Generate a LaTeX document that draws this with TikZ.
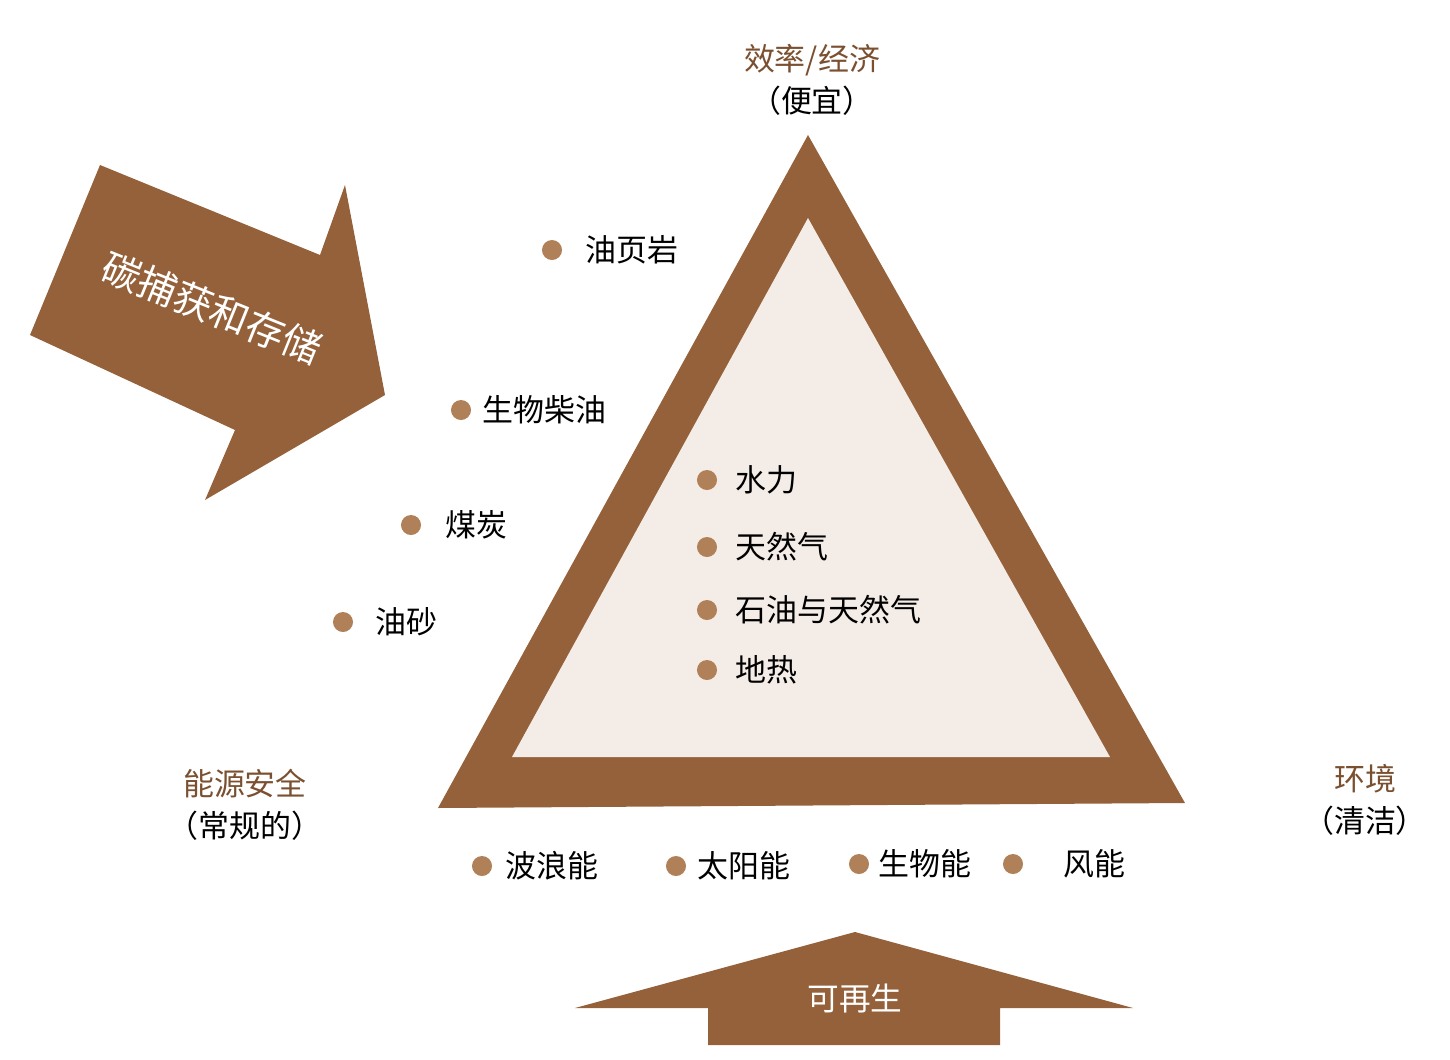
\documentclass[tikz,border=0pt]{standalone}
\usepackage{fontspec}
\setmainfont{Noto Sans CJK SC}
\definecolor{brn}{HTML}{94613A}
\definecolor{inner}{HTML}{F4ECE6}
\definecolor{dotc}{HTML}{B08058}
\definecolor{head}{HTML}{7A5030}
\tikzset{dot/.style={circle,fill=dotc,inner sep=0pt,minimum size=0.2cm},
 lab/.style={anchor=west,inner sep=0pt,font=\fontsize{8.8}{10}\selectfont},
 hd/.style={align=center,font=\fontsize{8.8}{12}\selectfont}}
\begin{document}
\begin{tikzpicture}[x=0.01cm,y=-0.01cm]
\useasboundingbox (0,0) rectangle (1450,1060);
\fill[brn] (808,135) -- (1185,803) -- (438,808) -- cycle;
\fill[inner] (808,218) -- (1110,757) -- (512,757) -- cycle;
\fill[brn] (100,165) -- (320,255) -- (345,185) -- (385,395) -- (205,500) -- (235,430) -- (30,335) -- cycle;
\node[white,rotate=-22,inner sep=0pt,font=\fontsize{11}{12}\selectfont] (ccs) at (212,308) {碳捕获和存储};
\fill[brn] (575,1008) -- (855,932) -- (1133,1008) -- (1000,1008) -- (1000,1045) -- (708,1045) -- (708,1008) -- cycle;
\node[white,font=\fontsize{9}{12}\selectfont] (ren) at (855,998) {可再生};
\node[hd] (top) at (812,80) {\textcolor{head}{效率/经济}\\（便宜）};
\node[hd] (left) at (245,805) {\textcolor{head}{能源安全}\\（常规的）};
\node[hd] (right) at (1365,800) {\textcolor{head}{环境}\\（清洁）};
\foreach \x/\y/\lx/\t/\n in {552/250/585/油页岩/a, 461/410/482/生物柴油/b, 411/525/445/煤炭/c, 343/622/375/油砂/d,
 707/480/735/水力/e, 707/547/735/天然气/f, 707/610/735/石油与天然气/g, 707/670/735/地热/h,
 482/866/505/波浪能/i, 676/866/697/太阳能/j, 859/864/878/生物能/k, 1013/864/1063/风能/l}{
 \node[dot] (d\n) at (\x,\y) {};
 \node[lab] (t\n) at (\lx,\y) {\t};
}
\end{tikzpicture}
\end{document}
